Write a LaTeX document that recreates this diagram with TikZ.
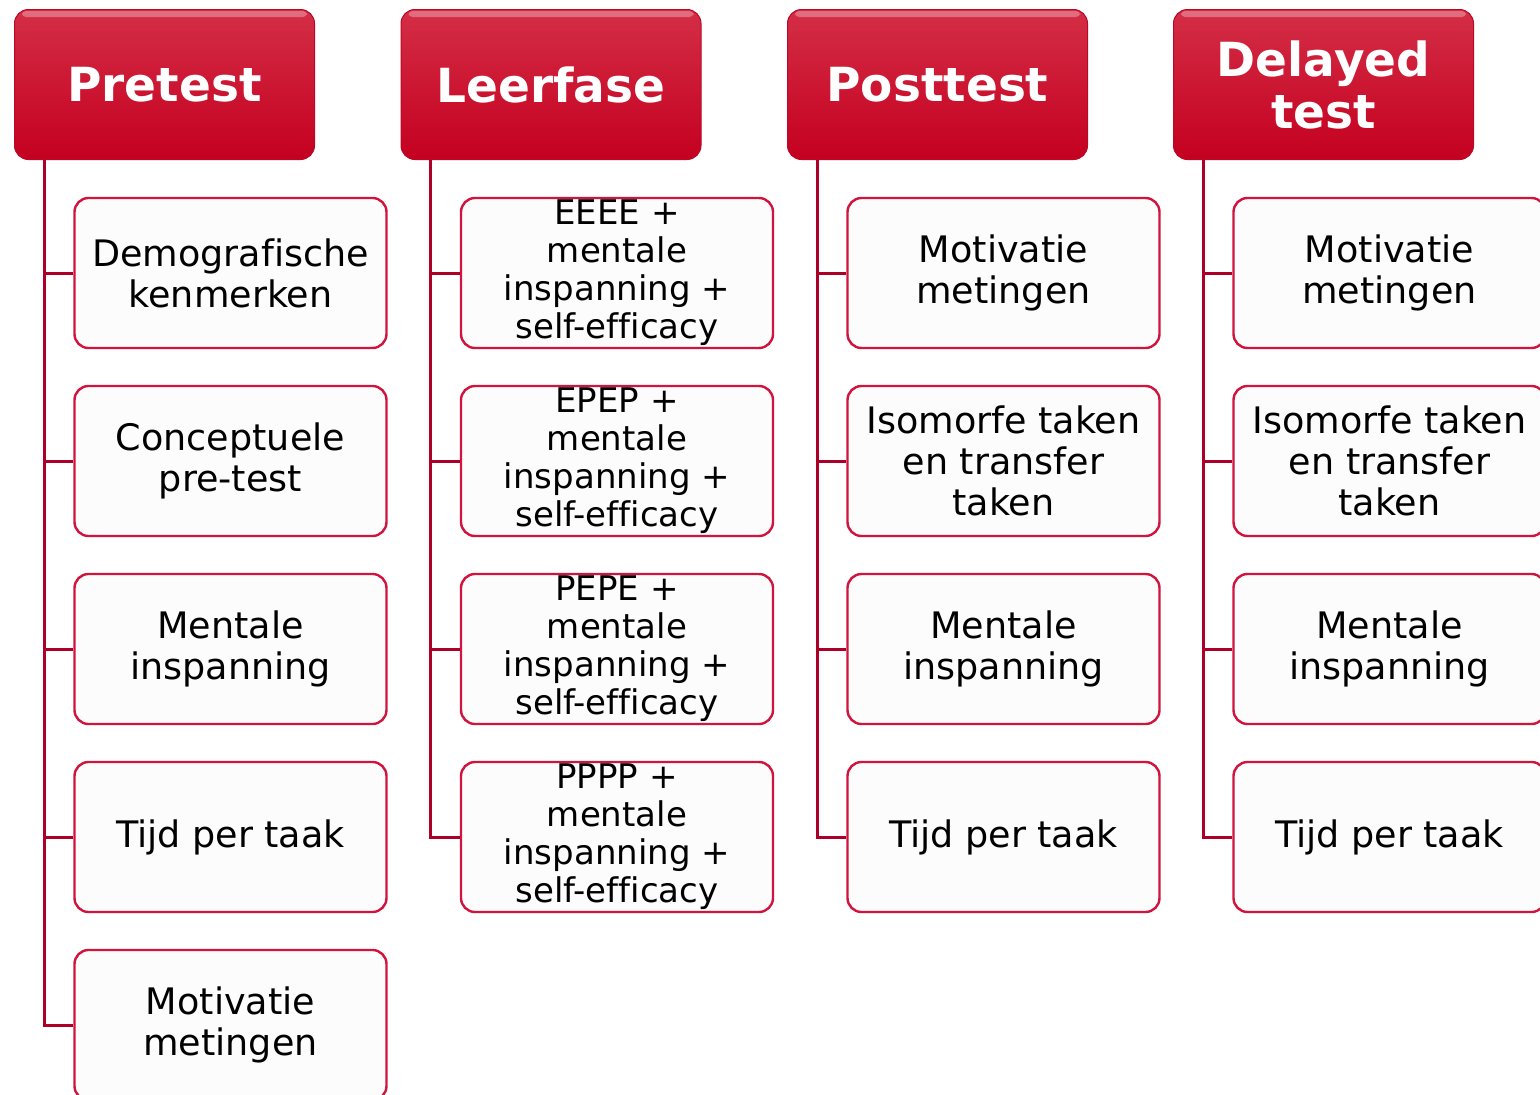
\documentclass[tikz,border=0pt]{standalone}
\usepackage{fontspec}
\setmainfont{DejaVu Sans}[Ligatures=NoCommon]
\usetikzlibrary{calc}
\definecolor{hdrtop}{RGB}{212,46,70}
\definecolor{hdrbot}{RGB}{196,0,32}
\definecolor{hdredge}{RGB}{186,8,38}
\definecolor{boxedge}{RGB}{208,20,62}
\definecolor{boxfill}{RGB}{252,252,252}
\definecolor{connc}{RGB}{172,0,40}
\begin{document}
\begin{tikzpicture}[x=1pt,y=-1pt,
  hdr/.style={rounded corners=14pt, minimum width=300pt, minimum height=150pt,
    top color=hdrtop, bottom color=hdrbot, draw=hdredge, line width=1pt,
    text=white, font=\fontsize{47}{52}\selectfont\bfseries, align=center, inner sep=0pt},
  child/.style={rounded corners=14pt, minimum width=312pt, minimum height=150pt,
    draw=boxedge, line width=2.4pt, fill=boxfill,
    font=\fontsize{36.5}{41}\selectfont, align=center, inner sep=0pt},
  childsm/.style={child, font=\fontsize{34}{38}\selectfont},
  conn/.style={draw=connc, line width=3pt},
  shine/.style={fill=white, opacity=0.3, rounded corners=4pt}]
\useasboundingbox (0,0) rectangle (1540,1095);

% headers
\node[hdr] (h1) at (164.5,84.5) {Pretest};
\node[hdr] (h2) at (551,84.5) {Leerfase};
\node[hdr] (h3) at (937.5,84.5) {Posttest};
\node[hdr] (h4) at (1323.5,84.5) {Delayed\\test};
\foreach \h in {h1,h2,h3,h4}{
  \path[shine] ($(\h.north west)+(8,2)$) rectangle ($(\h.north east)+(-8,8)$);
}

% trunk tops
\coordinate (t1) at (44,160);
\coordinate (t2) at (430.5,160);
\coordinate (t3) at (817,160);
\coordinate (t4) at (1203,160);

% column 1
\node[child] (c11) at (230.5,273) {Demografische\\kenmerken};
\node[child] (c12) at (230.5,461) {Conceptuele\\pre-test};
\node[child] (c13) at (230.5,649) {Mentale\\inspanning};
\node[child] (c14) at (230.5,837) {Tijd per taak};
\node[child] (c15) at (230.5,1025) {Motivatie\\metingen};

% column 2
\node[childsm] (c21) at (617,273) {EEEE +\\mentale\\inspanning +\\self-efficacy};
\node[childsm] (c22) at (617,461) {EPEP +\\mentale\\inspanning +\\self-efficacy};
\node[childsm] (c23) at (617,649) {PEPE +\\mentale\\inspanning +\\self-efficacy};
\node[childsm] (c24) at (617,837) {PPPP +\\mentale\\inspanning +\\self-efficacy};

% column 3
\node[child] (c31) at (1003.5,273) {Motivatie\\metingen};
\node[child] (c32) at (1003.5,461) {Isomorfe taken\\en transfer\\taken};
\node[child] (c33) at (1003.5,649) {Mentale\\inspanning};
\node[child] (c34) at (1003.5,837) {Tijd per taak};

% column 4
\node[child] (c41) at (1389.5,273) {Motivatie\\metingen};
\node[child] (c42) at (1389.5,461) {Isomorfe taken\\en transfer\\taken};
\node[child] (c43) at (1389.5,649) {Mentale\\inspanning};
\node[child] (c44) at (1389.5,837) {Tijd per taak};

% connectors
\foreach \c in {c11,c12,c13,c14,c15}{\draw[conn] (t1) |- (\c.west);}
\foreach \c in {c21,c22,c23,c24}{\draw[conn] (t2) |- (\c.west);}
\foreach \c in {c31,c32,c33,c34}{\draw[conn] (t3) |- (\c.west);}
\foreach \c in {c41,c42,c43,c44}{\draw[conn] (t4) |- (\c.west);}
\end{tikzpicture}
\end{document}
